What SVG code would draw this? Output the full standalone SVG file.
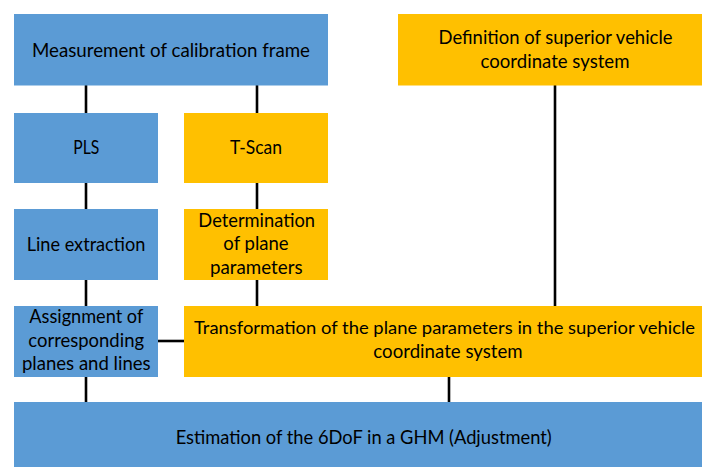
<svg xmlns="http://www.w3.org/2000/svg" width="702" height="467" viewBox="0 0 702 467">
<style>
.b{fill:#5B9BD5}
.o{fill:#FFC000}
text{font-family:Lato,"Liberation Sans",Arial,sans-serif;font-size:19px;fill:#000;text-anchor:middle}
.c line{stroke:#000;stroke-width:2.6}
</style>
<rect width="702" height="467" fill="#fff"/>
<g class="c" id="connectors">
<line x1="86" y1="85" x2="86" y2="113"/>
<line x1="86" y1="183" x2="86" y2="209"/>
<line x1="86" y1="280" x2="86" y2="306"/>
<line x1="86" y1="377" x2="86" y2="402"/>
<line x1="257" y1="85" x2="257" y2="113"/>
<line x1="257" y1="183" x2="257" y2="209"/>
<line x1="257" y1="280" x2="257" y2="306"/>
<line x1="555" y1="85" x2="555" y2="306"/>
<line x1="449" y1="377" x2="449" y2="402"/>
<line x1="158" y1="341" x2="184" y2="341"/>
</g>
<g id="n1"><rect class="b" x="14" y="14" width="314" height="71.5"/>
<text x="171" y="56.5" textLength="278" lengthAdjust="spacingAndGlyphs">Measurement of calibration frame</text></g>
<g id="n2"><rect class="o" x="398" y="14" width="304" height="71.5"/>
<text x="555.5" y="44.3" textLength="234" lengthAdjust="spacingAndGlyphs">Definition of superior vehicle</text>
<text x="555" y="68.3" textLength="149" lengthAdjust="spacingAndGlyphs">coordinate system</text></g>
<g id="n3"><rect class="b" x="14" y="113" width="144" height="70"/>
<text x="86.3" y="154" textLength="26" lengthAdjust="spacingAndGlyphs">PLS</text></g>
<g id="n4"><rect class="o" x="184" y="113" width="144" height="70"/>
<text x="256" y="154" textLength="52" lengthAdjust="spacingAndGlyphs">T-Scan</text></g>
<g id="n5"><rect class="b" x="14" y="209" width="144" height="71"/>
<text x="86" y="251" textLength="118.7" lengthAdjust="spacingAndGlyphs">Line extraction</text></g>
<g id="n6"><rect class="o" x="184" y="209" width="144" height="71"/>
<text x="256.7" y="226.7" textLength="116.7" lengthAdjust="spacingAndGlyphs">Determination</text>
<text x="256" y="250.3" textLength="65.3" lengthAdjust="spacingAndGlyphs">of plane</text>
<text x="256.3" y="273.8" textLength="92.7" lengthAdjust="spacingAndGlyphs">parameters</text></g>
<g id="n7"><rect class="b" x="14" y="306" width="144" height="71"/>
<text x="86.3" y="322.5" textLength="114" lengthAdjust="spacingAndGlyphs">Assignment of</text>
<text x="86.2" y="346.5" textLength="115.7" lengthAdjust="spacingAndGlyphs">corresponding</text>
<text x="86.3" y="370.3" textLength="128.7" lengthAdjust="spacingAndGlyphs">planes and lines</text></g>
<g id="n8"><rect class="o" x="184" y="306" width="518" height="71"/>
<text x="444.5" y="334" style="font-size:17.5px" textLength="501" lengthAdjust="spacingAndGlyphs">Transformation of the plane parameters in the superior vehicle</text>
<text x="448" y="358.3" textLength="149.3" lengthAdjust="spacingAndGlyphs">coordinate system</text></g>
<g id="n9"><rect class="b" x="14" y="402" width="688" height="65"/>
<text x="363.7" y="444" textLength="376" lengthAdjust="spacingAndGlyphs">Estimation of the 6DoF in a GHM (Adjustment)</text></g>
</svg>
